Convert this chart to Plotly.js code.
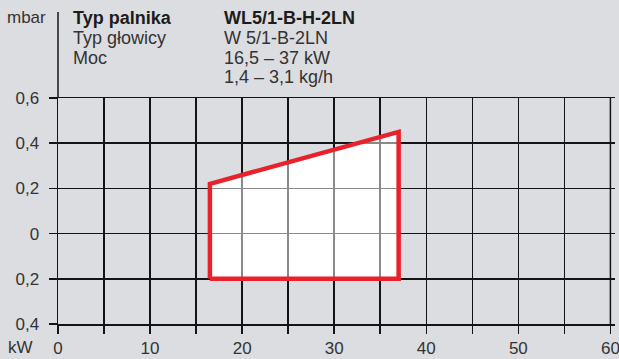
<!DOCTYPE html>
<html>
<head>
<meta charset="utf-8">
<script src="https://cdn.plot.ly/plotly-3.0.1.min.js"></script>
<style>html,body{margin:0;padding:0;background:#dcdde0;}#chart{width:619px;height:359px;}</style>
</head>
<body>
<div id="chart"></div>
<script>
// ---- data ----
const fieldX = [16.5, 16.5, 37, 37, 16.5];          // kW
const fieldY = [-0.2, 0.22, 0.45, -0.2, -0.2];      // mbar
const xTickVals = [0, 5, 10, 15, 20, 25, 30, 35, 40, 45, 50, 55, 60];
const xTickText = ['0', '', '10', '', '20', '', '30', '', '40', '', '50', '', '60'];
const yTickVals = [-0.4, -0.2, 0, 0.2, 0.4, 0.6];
const yTickText = ['0,4', '0,2', '0', '0,2', '0,4', '0,6'];
const headerLabels = ['Typ palnika', 'Typ głowicy', 'Moc'];
const headerValues = ['WL5/1-B-H-2LN', 'W 5/1-B-2LN', '16,5 – 37 kW', '1,4 – 3,1 kg/h'];
const yUnit = 'mbar';
const xUnit = 'kW';

// ---- layout helpers ----
const W = 619, H = 359;
const M = {l: 58, r: 4, t: 98, b: 35};
const pw = W - M.l - M.r, ph = H - M.t - M.b;
const px = v => (v - M.l) / pw;
const py = v => 1 + (M.t - v) / ph;

const font = 'Liberation Sans, Arimo, Helvetica, Arial, sans-serif';
const txt = '#333333';
const dark = '#1c1c1c';
const lineCol = '#141414';
const lw = 1.5;
const fs = 17;
const hfs = 18;

const pathStr = fieldX.map((x, i) => (i === 0 ? 'M' : 'L') + x + ',' + fieldY[i]).join(' ') + ' Z';

const traces = [{
  type: 'scatter', mode: 'lines', x: fieldX, y: fieldY,
  fill: 'toself', fillcolor: 'rgba(255,255,255,0.5)',
  line: {color: '#e8212b', width: 4.5},
  hoverinfo: 'skip', showlegend: false
}];

const annotations = [
  {xref: 'paper', yref: 'paper', x: px(48), y: py(18), xanchor: 'right', yanchor: 'middle',
   text: yUnit, showarrow: false, font: {family: font, size: fs, color: txt}},
  {xref: 'paper', yref: 'paper', x: px(35), y: py(347), xanchor: 'right', yanchor: 'middle',
   text: xUnit, showarrow: false, font: {family: font, size: fs, color: txt}}
];
const rowY = [18, 38, 57.5, 77];
headerLabels.forEach((s, i) => annotations.push({
  xref: 'paper', yref: 'paper', x: px(71), y: py(rowY[i]), xanchor: 'left', yanchor: 'middle',
  text: i === 0 ? '<b>' + s + '</b>' : s, showarrow: false,
  font: {family: font, size: hfs, color: i === 0 ? dark : txt}
}));
headerValues.forEach((s, i) => annotations.push({
  xref: 'paper', yref: 'paper', x: px(222), y: py(rowY[i]), xanchor: 'left', yanchor: 'middle',
  text: i === 0 ? '<b>' + s + '</b>' : s, showarrow: false,
  font: {family: font, size: hfs, color: i === 0 ? dark : txt}
}));

const axisCommon = {
  tickmode: 'array', showgrid: true, gridcolor: lineCol, gridwidth: lw,
  ticks: 'outside', ticklen: 8, tickwidth: lw, tickcolor: lineCol,
  linecolor: lineCol, linewidth: lw, zeroline: false, fixedrange: true,
  tickfont: {family: font, size: fs, color: txt}
};

const layout = {
  width: W, height: H,
  margin: M,
  paper_bgcolor: '#dcdde0', plot_bgcolor: '#dcdde0',
  showlegend: false,
  font: {family: font, size: fs, color: txt},
  xaxis: Object.assign({}, axisCommon, {
    range: [0, 60.5], tickvals: xTickVals, ticktext: xTickText,
    showline: true, mirror: true, ticklabeloverflow: 'allow'
  }),
  yaxis: Object.assign({}, axisCommon, {
    range: [-0.4, 0.6], tickvals: yTickVals, ticktext: yTickText,
    showline: true, mirror: false, ticklabelstandoff: 6
  }),
  shapes: [
    {type: 'path', xref: 'x', yref: 'y', path: pathStr, fillcolor: '#ffffff', line: {width: 0}, layer: 'below'},
    {type: 'line', xref: 'paper', yref: 'paper', x0: 0, x1: 0, y0: 1, y1: py(12), line: {color: lineCol, width: lw}},
    {type: 'line', xref: 'x', yref: 'paper', x0: xTickVals[xTickVals.length - 1], x1: xTickVals[xTickVals.length - 1],
     y0: 0, y1: 1, line: {color: lineCol, width: lw}, layer: 'below'}
  ],
  annotations: annotations
};

Plotly.newPlot('chart', traces, layout, {staticPlot: true, displayModeBar: false});
</script>
</body>
</html>
